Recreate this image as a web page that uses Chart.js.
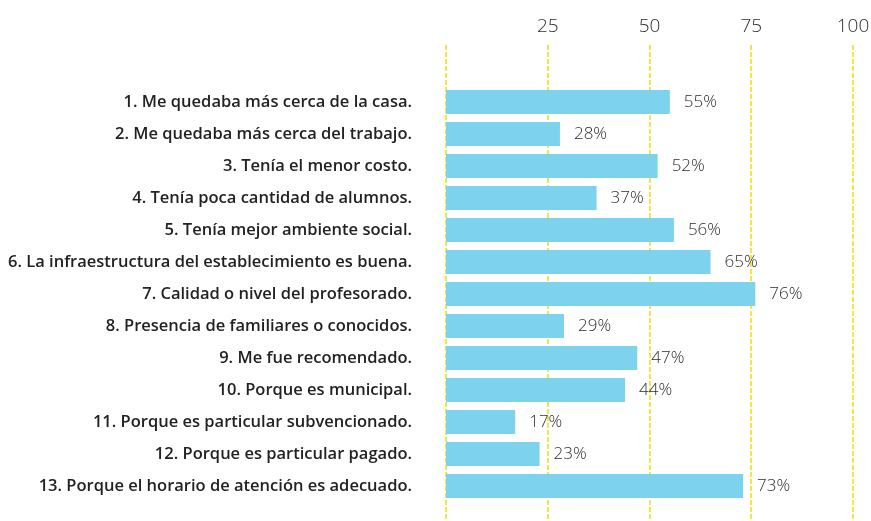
<!DOCTYPE html>
<html>
<head>
<meta charset="utf-8">
<script src="https://cdn.jsdelivr.net/npm/chart.js@4/dist/chart.umd.min.js"></script>
<style>
  html, body { margin: 0; padding: 0; background: #fff; }
  #wrap { width: 871px; height: 521px; }
</style>
</head>
<body>
<div id="wrap"><canvas id="reasonsChart"></canvas></div>
<script>
const reasons = [
  "1. Me quedaba más cerca de la casa.",
  "2. Me quedaba más cerca del trabajo.",
  "3. Tenía el menor costo.",
  "4. Tenía poca cantidad de alumnos.",
  "5. Tenía mejor ambiente social.",
  "6. La infraestructura del establecimiento es buena.",
  "7. Calidad o nivel del profesorado.",
  "8. Presencia de familiares o conocidos.",
  "9. Me fue recomendado.",
  "10. Porque es municipal.",
  "11. Porque es particular subvencionado.",
  "12. Porque es particular pagado.",
  "13. Porque el horario de atención es adecuado."
];
const percents = [55, 28, 52, 37, 56, 65, 76, 29, 47, 44, 17, 23, 73];
const axisTicks = [0, 25, 50, 75, 100];

const BAR_COLOR = "#7dd3ee";
const GRID_COLOR = "#f0e742";
const TEXT_DARK = "#222222";
const TEXT_SOFT = "#2e2e2e";

// yellow dashed guide lines, running past the plot area to the bottom edge
const guideLines = {
  id: "guideLines",
  beforeDatasetsDraw(chart) {
    const { ctx, scales: { x } } = chart;
    ctx.save();
    ctx.strokeStyle = GRID_COLOR;
    ctx.lineWidth = 2;
    ctx.setLineDash([5, 2]);
    axisTicks.forEach(v => {
      const px = Math.round(x.getPixelForValue(v));
      ctx.beginPath();
      ctx.moveTo(px, 45);
      ctx.lineTo(px, chart.height);
      ctx.stroke();
    });
    ctx.restore();
  }
};

// percentage text just past the end of each bar
const valueLabels = {
  id: "valueLabels",
  afterDatasetsDraw(chart) {
    const { ctx } = chart;
    const meta = chart.getDatasetMeta(0);
    ctx.save();
    ctx.font = "300 17px 'Open Sans'";
    ctx.fillStyle = TEXT_SOFT;
    ctx.textAlign = "left";
    ctx.textBaseline = "middle";
    meta.data.forEach((bar, i) => {
      ctx.fillText(percents[i] + "%", bar.x + 14, bar.y);
    });
    ctx.restore();
  }
};

new Chart(document.getElementById("reasonsChart"), {
  type: "bar",
  data: {
    labels: reasons,
    datasets: [{
      data: percents,
      backgroundColor: BAR_COLOR,
      borderWidth: 0,
      categoryPercentage: 0.75,
      barPercentage: 1
    }]
  },
  options: {
    indexAxis: "y",
    responsive: true,
    maintainAspectRatio: false,
    animation: false,
    layout: { padding: { top: 0, right: 18, bottom: 19, left: 0 } },
    plugins: {
      legend: { display: false },
      tooltip: { enabled: false }
    },
    scales: {
      x: {
        position: "top",
        min: 0,
        max: 100,
        border: { display: false },
        grid: { display: false, drawTicks: false },
        afterFit: s => {
          s.height = 86;
          s.paddingLeft = 0;
          s.paddingRight = 0;
        },
        afterBuildTicks: s => { s.ticks = axisTicks.map(v => ({ value: v })); },
        ticks: {
          padding: 48,
          color: TEXT_SOFT,
          font: { family: "Open Sans", size: 19, weight: "300" },
          callback: v => (v === 0 ? "" : v)
        }
      },
      y: {
        border: { display: false },
        grid: { display: false, drawTicks: false },
        afterFit: s => {
          s.width = 446;
          s.paddingTop = 0;
          s.paddingBottom = 0;
        },
        ticks: {
          padding: 34,
          color: TEXT_DARK,
          font: { family: "Open Sans", size: 16.5, weight: "600" }
        }
      }
    }
  },
  plugins: [guideLines, valueLabels]
});
</script>
</body>
</html>
